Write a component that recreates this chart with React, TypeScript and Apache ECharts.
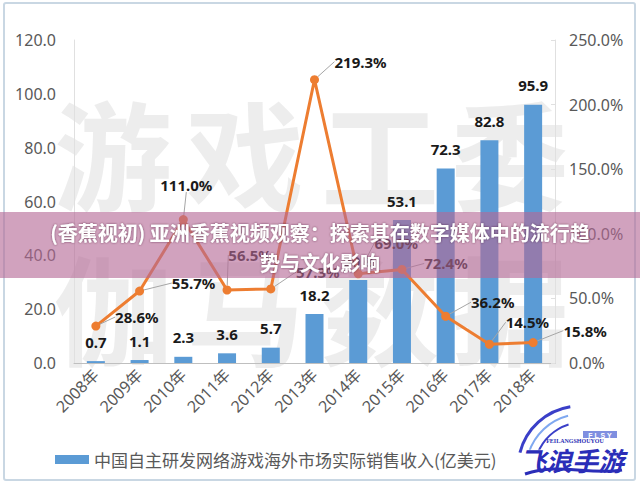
import React, { useEffect, useRef } from "react";
import * as echarts from "echarts";

const categories = ["2008年", "2009年", "2010年", "2011年", "2012年", "2013年", "2014年", "2015年", "2016年", "2017年", "2018年"];
const revenue = [0.7, 1.1, 2.3, 3.6, 5.7, 18.2, 30.8, 53.1, 72.3, 82.8, 95.9];
const growth = [28.6, 55.7, 111.0, 56.5, 57.3, 219.3, 69.0, 72.4, 36.2, 14.5, 15.8];
const leftTicks = { min: 0, max: 120, interval: 20 };
const rightTicks = { min: 0, max: 250, interval: 50 };
const legendName = "中国自主研发网络游戏海外市场实际销售收入(亿美元)";
const bannerLine1 = "(香蕉视初) 亚洲香蕉视频观察：探索其在数字媒体中的流行趋";
const bannerLine2 = "势与文化影响";
const watermarkTop = ["游", "戏", "工", "委"];
const watermarkBottom = ["伽", "马", "数", "据"];

// label offsets (style) for growth labels
const growthLabelOffsets: [number, number][] = [
  [41, -9], [54, -8], [3, -35], [23, -35], [47, -17], [46, -18],
  [38, -31], [44, -6], [47, -14], [38, -22], [52, -12],
];

const FONT = '"Noto Sans", "Noto Sans CJK SC", sans-serif';
const CJK = '"Noto Sans CJK SC", sans-serif';

export default function App() {
  const ref = useRef<HTMLDivElement>(null);
  useEffect(() => {
    if (!ref.current) return;
    const chart = echarts.init(ref.current, undefined, { renderer: "svg" });
    const wmX = [113, 245, 380, 510];
    const graphic: any[] = [];
    graphic.push({
      type: "rect", z: -20, silent: true,
      shape: { x: 4, y: 3, width: 631, height: 477, r: 2 },
      style: { fill: "#fff", stroke: "#C9D7E3", lineWidth: 2 },
    });
    watermarkTop.forEach((c, i) => {
      graphic.push({
        type: "text", z: -10, silent: true, x: wmX[i], y: 150,
        style: { text: c, font: `bold 118px ${CJK}`, fill: "rgba(150,150,150,0.17)", align: "center", verticalAlign: "middle" },
      });
    });
    watermarkBottom.forEach((c, i) => {
      graphic.push({
        type: "text", z: -10, silent: true, x: wmX[i], y: 305,
        style: { text: c, font: `bold 118px ${CJK}`, fill: "rgba(150,150,150,0.17)", align: "center", verticalAlign: "middle" },
      });
    });
    // banner
    graphic.push({
      type: "rect", z: 100, silent: true,
      shape: { x: 0, y: 212, width: 640, height: 66 },
      style: { fill: "rgba(180,105,150,0.62)" },
    });
    graphic.push({
      type: "text", z: 101, silent: true, x: 320, y: 232,
      style: { text: bannerLine1, font: `bold 20px ${CJK}`, fill: "#fff", align: "center", verticalAlign: "middle", textShadowColor: "rgba(60,20,40,0.6)", textShadowBlur: 2 },
    });
    graphic.push({
      type: "text", z: 101, silent: true, x: 320, y: 262,
      style: { text: bannerLine2, font: `bold 20px ${CJK}`, fill: "#fff", align: "center", verticalAlign: "middle", textShadowColor: "rgba(60,20,40,0.6)", textShadowBlur: 2 },
    });
    // logo
    graphic.push({
      type: "group", z: 100, silent: true,
      children: [
        { type: "rect", shape: { x: 508, y: 418, width: 120, height: 60 }, style: { fill: "#fff" } },
        { type: "arc", shape: { cx: 580, cy: 468, r: 62, startAngle: Math.PI * 1.08, endAngle: Math.PI * 1.45 }, style: { stroke: "#3A3FC8", lineWidth: 3, fill: "none" } },
        { type: "arc", shape: { cx: 582, cy: 470, r: 56, startAngle: Math.PI * 1.1, endAngle: Math.PI * 1.42 }, style: { stroke: "#7FA8F0", lineWidth: 2, fill: "none" } },
        { type: "arc", shape: { cx: 584, cy: 472, r: 50, startAngle: Math.PI * 1.12, endAngle: Math.PI * 1.4 }, style: { stroke: "#3A3FC8", lineWidth: 2, fill: "none" } },
        { type: "rect", shape: { x: 583, y: 431, width: 34, height: 7 }, style: { fill: "#7F8FE0" } },
        { type: "text", x: 600, y: 435, style: { text: "F L S Y", font: "bold 7px sans-serif", fill: "#fff", align: "center", verticalAlign: "middle" } },
        { type: "text", x: 575, y: 441, style: { text: "FEILANGSHOUYOU", font: "bold 6px serif", fill: "#2B2FB5", align: "center", verticalAlign: "middle" } },
        { type: "text", x: 572, y: 459, style: { text: "飞浪手游", font: `italic bold 26px ${CJK}`, fill: "#2A2DB8", stroke: "#fff", lineWidth: 1, align: "center", verticalAlign: "middle" } },
        { type: "bezierCurve", shape: { x1: 525, y1: 474, cpx1: 560, cpy1: 462, cpx2: 590, cpy2: 476, x2: 622, y2: 470 }, style: { stroke: "#2A2DB8", lineWidth: 3, fill: "none" } },
      ],
    });

    chart.setOption({
      animation: false,
      textStyle: { fontFamily: FONT },
      grid: { left: 74, right: 85, top: 40, bottom: 128, containLabel: false },
      legend: {
        data: [legendName], left: 50, top: 446, icon: "rect", itemWidth: 34, itemHeight: 9, itemGap: 6,
        textStyle: { fontSize: 17, color: "#595959", fontFamily: CJK },
      },
      xAxis: {
        type: "category", data: categories,
        axisLine: { lineStyle: { color: "#BFBFBF", width: 1 } },
        axisTick: { show: false },
        axisLabel: { rotate: 45, fontSize: 16, color: "#595959", margin: 9, fontFamily: FONT },
      },
      yAxis: [
        {
          type: "value", ...leftTicks, position: "left",
          axisLine: { show: true, lineStyle: { color: "#E0E0E0" } },
          axisTick: { show: false }, splitLine: { show: false },
          axisLabel: { fontSize: 16, color: "#595959", margin: 18, formatter: (v: number) => v.toFixed(1) },
        },
        {
          type: "value", ...rightTicks, position: "right",
          axisLine: { show: true, lineStyle: { color: "#E0E0E0" } },
          axisTick: { show: true, length: 4, inside: true, lineStyle: { color: "#E0E0E0" } }, splitLine: { show: false },
          axisLabel: { fontSize: 16, color: "#595959", margin: 14, formatter: (v: number) => v.toFixed(1) + "%" },
        },
      ],
      series: [
        {
          name: legendName, type: "bar", data: revenue, barWidth: 18, yAxisIndex: 0, z: 2,
          itemStyle: { color: "#5B9BD5" },
          label: { show: true, position: "top", distance: 12, fontSize: 15, fontWeight: "bold", color: "#1a1a1a", formatter: (p: any) => p.value.toFixed(1) },
        },
        {
          name: "增长率", type: "line", data: growth, yAxisIndex: 1, z: 3,
          lineStyle: { color: "#ED7D31", width: 3 },
          itemStyle: { color: "#ED7D31" },
          symbol: "circle", symbolSize: 9,
          label: { show: true, position: "inside", fontSize: 15, fontWeight: "bold", color: "#1a1a1a", formatter: (p: any) => p.value.toFixed(1) + "%" },
          labelLine: { show: true, lineStyle: { color: "#A6A6A6", width: 1 } },
          labelLayout: (params: any) => {
            const o = growthLabelOffsets[params.dataIndex];
            return { dx: o[0], dy: o[1] };
          },
        },
      ],
      graphic,
    });
    return () => chart.dispose();
  }, []);
  return <div ref={ref} style={{ position: "fixed", left: 0, top: 0, width: 640, height: 491, background: "#fff" }} />;
}
